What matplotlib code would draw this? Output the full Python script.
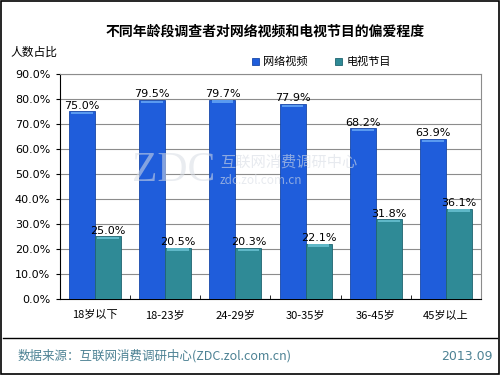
import matplotlib
matplotlib.use("Agg")
import numpy as np
from matplotlib import pyplot as plt
from matplotlib.lines import Line2D
from matplotlib.patches import Rectangle

CATEGORIES = ["18岁以下", "18-23岁", "24-29岁", "30-35岁", "36-45岁", "45岁以上"]
ONLINE_VIDEO = [75.0, 79.5, 79.7, 77.9, 68.2, 63.9]
TV_SHOWS = [25.0, 20.5, 20.3, 22.1, 31.8, 36.1]
SERIES_NAMES = ["网络视频", "电视节目"]
Y_TICKS = [0, 10, 20, 30, 40, 50, 60, 70, 80, 90]

BLUE = "#1f5ddb"
TEAL = "#2f8a96"
FOOT = "#4d8294"

plt.rcParams["font.family"] = ["Noto Sans CJK SC", "DejaVu Sans"]


def main():
    fig = plt.figure(figsize=(5, 3.75), dpi=100)
    ax = fig.add_axes([0.12, 0.2027, 0.842, 0.6])
    x = np.arange(len(CATEGORIES))
    w = 0.37
    b1 = ax.bar(x - w / 2, ONLINE_VIDEO, w, color=BLUE, edgecolor="#1848a8",
                linewidth=0.6, label=SERIES_NAMES[0], zorder=3)
    b2 = ax.bar(x + w / 2, TV_SHOWS, w, color=TEAL, edgecolor="#1f6470",
                linewidth=0.6, label=SERIES_NAMES[1], zorder=3)
    # light top edge, as in the bevelled bars
    for bars, col in [(b1, "#5a9af0"), (b2, "#5fb8c8")]:
        for r in bars:
            ax.add_patch(Rectangle((r.get_x() + 0.03, r.get_height() - 1.2),
                                   r.get_width() - 0.06, 1.0, color=col,
                                   zorder=4, linewidth=0))
    for bars, vals in [(b1, ONLINE_VIDEO), (b2, TV_SHOWS)]:
        for r, v in zip(bars, vals):
            ax.text(r.get_x() + r.get_width() / 2, v + 0.3, f"{v:.1f}%",
                    ha="center", va="bottom", fontsize=8, zorder=5,
                    family="DejaVu Sans")

    ax.set_ylim(0, 90)
    ax.set_xlim(-0.5, len(CATEGORIES) - 0.5)
    ax.set_yticks(Y_TICKS)
    ax.set_yticklabels([f"{t:.1f}%" for t in Y_TICKS], fontsize=8,
                       family="DejaVu Sans")
    ax.set_xticks(x)
    ax.set_xticklabels(CATEGORIES, fontsize=8)
    ax.set_xticks(np.arange(len(CATEGORIES) + 1) - 0.5, minor=True)
    ax.tick_params(axis="x", which="major", length=0, pad=8)
    ax.tick_params(axis="x", which="minor", length=3, direction="in")
    ax.tick_params(axis="y", length=3, direction="out", pad=4)
    ax.yaxis.grid(True, color="#8c8c8c", linewidth=0.8, zorder=0)
    ax.set_axisbelow(True)
    for side in ["top", "right"]:
        ax.spines[side].set_color("#8c8c8c")
    ax.spines["left"].set_color("black")
    ax.spines["bottom"].set_color("black")

    ax.legend(loc="lower left", bbox_to_anchor=(0.44, 1.0), ncol=2,
              frameon=False, fontsize=8, handlelength=0.6, handleheight=0.6,
              columnspacing=2.5, handletextpad=0.4, borderaxespad=0.2)

    fig.text(0.53, 0.915, "不同年龄段调查者对网络视频和电视节目的偏爱程度",
             ha="center", va="center", fontsize=10, fontweight="bold")
    fig.text(0.02, 0.86, "人数占比", ha="left", va="center", fontsize=8.5)

    # faint watermark
    fig.text(0.347, 0.545, "ZDC", fontsize=30, color="#d8dde5", alpha=0.55,
             ha="center", va="center", family="Liberation Serif", zorder=10)
    fig.text(0.44, 0.568, "互联网消费调研中心", fontsize=11, color="#d8dde5",
             alpha=0.6, ha="left", va="center", zorder=10)
    fig.text(0.44, 0.52, "zdc.zol.com.cn", fontsize=8.5, color="#d8dde5",
             alpha=0.6, ha="left", va="center", zorder=10)

    fig.add_artist(Line2D([0.006, 0.994], [0.099, 0.099],
                          color="black", linewidth=1))
    fig.text(0.035, 0.05, "数据来源：互联网消费调研中心(ZDC.zol.com.cn)",
             ha="left", va="center", fontsize=9, color=FOOT)
    fig.text(0.985, 0.05, "2013.09", ha="right", va="center", fontsize=9,
             color=FOOT, family="DejaVu Sans")
    fig.add_artist(Rectangle((0.002, 0.003), 0.996, 0.994, fill=False,
                             edgecolor="black", linewidth=1.2,
                             transform=fig.transFigure))

    fig.savefig("out.png", dpi=100)
    plt.close(fig)


if __name__ == "__main__":
    main()
